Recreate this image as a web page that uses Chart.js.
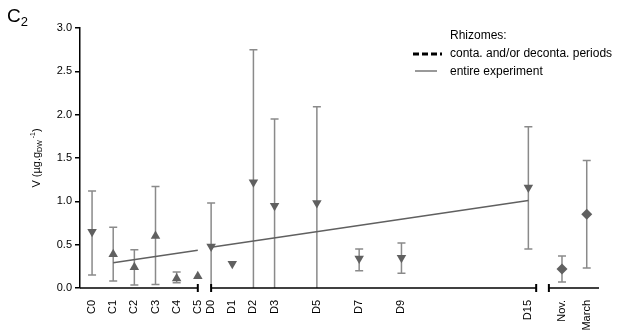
<!DOCTYPE html>
<html>
<head>
<meta charset="utf-8">
<script src="https://cdn.jsdelivr.net/npm/chart.js@4.4.0/dist/chart.umd.min.js"></script>
<style>
  html, body { margin: 0; background: #fff; }
  #wrap { width: 617px; height: 336px; }
</style>
</head>
<body>
<div id="wrap"><canvas id="c2-chart"></canvas></div>
<script>
// sampling times on the broken time axis
const categories = ["C0", "C1", "C2", "C3", "C4", "C5", "D0", "D1", "D2", "D3", "D5", "D7", "D9", "D15", "Nov.", "March"];
const timePos = [0, 1, 2, 3, 4, 5, 5.63, 6.63, 7.63, 8.63, 10.63, 12.63, 14.63, 20.63, 22.22, 23.39];

// V (µg.g DW-1), mean and error bar limits
const means = [0.65, 0.39, 0.24, 0.60, 0.11, 0.135, 0.48, 0.28, 1.22, 0.95, 0.98, 0.34, 0.35, 1.16, 0.22, 0.85];
const errLow = [0.15, 0.08, 0.035, 0.04, 0.06, null, 0, null, 0, 0, 0, 0.20, 0.17, 0.45, 0.07, 0.23];
const errHigh = [1.12, 0.70, 0.44, 1.17, 0.185, null, 0.98, null, 2.75, 1.95, 2.09, 0.45, 0.52, 1.86, 0.37, 1.47];

// regression lines
const fitContaX = [1, 5];
const fitContaY = [0.29, 0.435];
const fitDecontaX = [5.63, 20.63];
const fitDecontaY = [0.47, 1.01];

const FONT = '"Liberation Sans", Arial, sans-serif';
Chart.defaults.font.family = FONT;

function markerStyle(i) {
  const lab = categories[i];
  if (lab[0] === "C" && i > 0) return "up";
  if (lab[0] === "C" || lab[0] === "D") return "down";
  return "diamond";
}

const decor = {
  id: "decor",
  beforeDatasetsDraw(chart) {
    const { ctx, scales: { x, y } } = chart;
    ctx.save();
    ctx.strokeStyle = "#8a8a8a";
    ctx.lineWidth = 1.5;
    timePos.forEach((t, i) => {
      if (errHigh[i] == null) return;
      const px = x.getPixelForValue(t);
      const top = y.getPixelForValue(errHigh[i]);
      const bot = y.getPixelForValue(errLow[i]);
      ctx.beginPath();
      ctx.moveTo(px, top);
      ctx.lineTo(px, bot);
      ctx.moveTo(px - 4, top);
      ctx.lineTo(px + 4, top);
      if (errLow[i] > 0) {
        ctx.moveTo(px - 4, bot);
        ctx.lineTo(px + 4, bot);
      }
      ctx.stroke();
    });
    ctx.restore();
  },
  afterDraw(chart) {
    const { ctx, scales: { x, y } } = chart;
    const base = y.getPixelForValue(0);
    ctx.save();

    // broken x axis
    ctx.strokeStyle = "#000";
    ctx.lineWidth = 1.5;
    const segs = [[x.min, 5.0, false, true], [5.63, 21.0, true, true], [21.6, x.max, true, false]];
    segs.forEach(([a, b, capA, capB]) => {
      const pa = x.getPixelForValue(a), pb = x.getPixelForValue(b);
      ctx.beginPath();
      ctx.moveTo(pa, base);
      ctx.lineTo(pb, base);
      ctx.stroke();
      ctx.lineWidth = 2;
      ctx.beginPath();
      if (capA) { ctx.moveTo(pa, base - 4); ctx.lineTo(pa, base + 4); }
      if (capB) { ctx.moveTo(pb, base - 4); ctx.lineTo(pb, base + 4); }
      ctx.stroke();
      ctx.lineWidth = 1.5;
    });

    // panel title C2
    ctx.fillStyle = "#000";
    ctx.textBaseline = "alphabetic";
    ctx.textAlign = "left";
    ctx.font = "19px " + FONT;
    ctx.fillText("C", 7, 22);
    const cw = ctx.measureText("C").width;
    ctx.font = "13px " + FONT;
    ctx.fillText("2", 7 + cw, 26);

    // y axis title
    ctx.save();
    ctx.translate(40, 158);
    ctx.rotate(-Math.PI / 2);
    const parts = [["V (µg.g", 11, 0], ["DW", 7, 2], [" -1", 7, -5], [")", 11, 0]];
    let total = 0;
    parts.forEach(([s, sz]) => { ctx.font = sz + "px " + FONT; total += ctx.measureText(s).width; });
    let cx = -total / 2;
    parts.forEach(([s, sz, dy]) => {
      ctx.font = sz + "px " + FONT;
      ctx.fillText(s, cx, dy);
      cx += ctx.measureText(s).width;
    });
    ctx.restore();

    // legend
    ctx.font = "12px " + FONT;
    ctx.textBaseline = "middle";
    ctx.fillText("Rhizomes:", 450, 36);
    ctx.fillText("conta. and/or deconta. periods", 450, 54);
    ctx.fillText("entire experiment", 450, 72);
    ctx.strokeStyle = "#000";
    ctx.lineWidth = 3;
    ctx.setLineDash([6, 3]);
    ctx.beginPath();
    ctx.moveTo(413, 54);
    ctx.lineTo(442, 54);
    ctx.stroke();
    ctx.setLineDash([]);
    ctx.strokeStyle = "#777";
    ctx.lineWidth = 1.5;
    ctx.beginPath();
    ctx.moveTo(415, 71);
    ctx.lineTo(437, 71);
    ctx.stroke();

    ctx.restore();
  }
};

const ctx = document.getElementById("c2-chart").getContext("2d");

new Chart(ctx, {
  type: "scatter",
  data: {
    datasets: [
      {
        label: "V",
        data: timePos.map((t, i) => ({ x: t, y: means[i] })),
        backgroundColor: "#606060",
        borderColor: "#606060",
        borderWidth: 0,
        pointRadius: c => markerStyle(c.dataIndex) === "diamond" ? 5.5 : 5.5,
        pointStyle: c => markerStyle(c.dataIndex) === "diamond" ? "rectRot" : "triangle",
        pointRotation: c => markerStyle(c.dataIndex) === "down" ? 180 : 0
      },
      {
        type: "line",
        label: "fit C",
        data: fitContaX.map((t, i) => ({ x: t, y: fitContaY[i] })),
        borderColor: "#606060",
        borderWidth: 1.5,
        pointRadius: 0
      },
      {
        type: "line",
        label: "fit D",
        data: fitDecontaX.map((t, i) => ({ x: t, y: fitDecontaY[i] })),
        borderColor: "#606060",
        borderWidth: 1.5,
        pointRadius: 0
      }
    ]
  },
  options: {
    responsive: true,
    maintainAspectRatio: false,
    animation: false,
    layout: { padding: { top: 28, right: 18, left: 0, bottom: 0 } },
    plugins: { legend: { display: false }, tooltip: { enabled: false } },
    scales: {
      x: {
        type: "linear",
        min: -0.57,
        max: 23.97,
        afterFit(s) { s.height = 48; },
        afterBuildTicks(s) { s.ticks = timePos.map(v => ({ value: v })); },
        grid: { display: false },
        border: { display: false },
        ticks: {
          autoSkip: false,
          minRotation: 90,
          maxRotation: 90,
          padding: 4,
          color: "#000",
          font: { size: 11 },
          callback: (v, i) => categories[i]
        }
      },
      y: {
        min: 0,
        max: 3,
        afterFit(s) { s.width = 80; },
        grid: { drawOnChartArea: false, color: "#000", tickLength: 5, lineWidth: 1.5 },
        border: { color: "#000", width: 1.5 },
        ticks: {
          stepSize: 0.5,
          padding: 3,
          color: "#000",
          font: { size: 11 },
          callback: v => v.toFixed(1)
        }
      }
    }
  },
  plugins: [decor]
});
</script>
</body>
</html>
